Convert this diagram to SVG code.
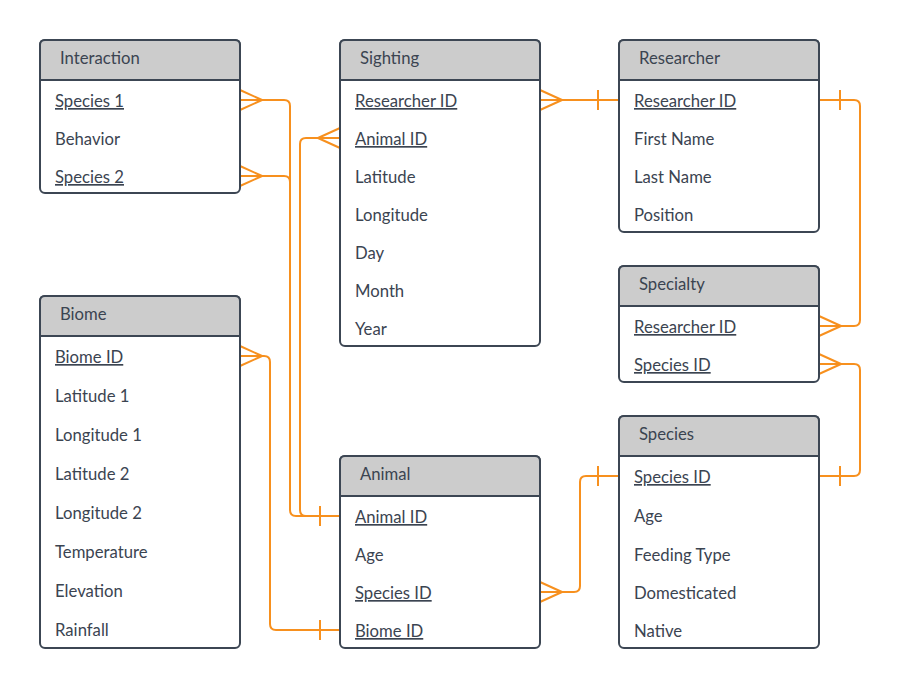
<svg xmlns="http://www.w3.org/2000/svg" width="900" height="688" viewBox="0 0 900 688">
<style>
.box{fill:#ffffff;stroke:#3c4653;stroke-width:2}
.hdr{fill:#cccccc;stroke:#3c4653;stroke-width:2}
text{font-family:"Lato","Liberation Sans",sans-serif;font-size:16.7px;fill:#3b4451}
.k{text-decoration:underline}
.c{fill:none;stroke:#f7901e;stroke-width:2;stroke-linejoin:round}
</style>
<rect width="900" height="688" fill="#ffffff"/>
<g id="connectors">
  <path class="c" d="M240,100 H284 Q290,100 290,106 V510 Q290,516 296,516 H340"/>
  <path class="c" d="M240,90 L262,100 L240,110"/>
  <path class="c" d="M240,176 H284 Q290,176 290,182 V510"/>
  <path class="c" d="M240,166 L262,176 L240,186"/>
  <path class="c" d="M340,138 H306 Q300,138 300,144 V510 Q300,516 306,516 H340"/>
  <path class="c" d="M340,128 L318,138 L340,148"/>
  <path class="c" d="M320,506 V526"/>
  <path class="c" d="M540,100 H619"/>
  <path class="c" d="M540,90 L562,100 L540,110"/>
  <path class="c" d="M598,90 V110"/>
  <path class="c" d="M819,100 H854 Q860,100 860,106 V320 Q860,326 854,326 H819"/>
  <path class="c" d="M840,90 V110"/>
  <path class="c" d="M819,316 L841,326 L819,336"/>
  <path class="c" d="M819,364 H854 Q860,364 860,370 V470 Q860,476 854,476 H819"/>
  <path class="c" d="M819,354 L841,364 L819,374"/>
  <path class="c" d="M840,466 V486"/>
  <path class="c" d="M240,356 H264 Q270,356 270,362 V624 Q270,630 276,630 H340"/>
  <path class="c" d="M240,346 L262,356 L240,366"/>
  <path class="c" d="M320,620 V640"/>
  <path class="c" d="M540,592 H574 Q580,592 580,586 V482 Q580,476 586,476 H619"/>
  <path class="c" d="M540,582 L562,592 L540,602"/>
  <path class="c" d="M598,466 V486"/>
</g>
<g id="interaction">
  <rect class="box" x="40" y="40" width="200" height="153" rx="5"/>
  <path class="hdr" d="M40,80 V45 Q40,40 45,40 H235 Q240,40 240,45 V80 Z"/>
  <text x="60" y="64">Interaction</text>
  <text class="k" x="55" y="107">Species 1</text>
  <text x="55" y="145">Behavior</text>
  <text class="k" x="55" y="183">Species 2</text>
</g>
<g id="sighting">
  <rect class="box" x="340" y="40" width="200" height="306" rx="5"/>
  <path class="hdr" d="M340,80 V45 Q340,40 345,40 H535 Q540,40 540,45 V80 Z"/>
  <text x="360" y="64">Sighting</text>
  <text class="k" x="355" y="107">Researcher ID</text>
  <text class="k" x="355" y="145">Animal ID</text>
  <text x="355" y="183">Latitude</text>
  <text x="355" y="221">Longitude</text>
  <text x="355" y="259">Day</text>
  <text x="355" y="297">Month</text>
  <text x="355" y="335">Year</text>
</g>
<g id="researcher">
  <rect class="box" x="619" y="40" width="200" height="192" rx="5"/>
  <path class="hdr" d="M619,80 V45 Q619,40 624,40 H814 Q819,40 819,45 V80 Z"/>
  <text x="639" y="64">Researcher</text>
  <text class="k" x="634" y="107">Researcher ID</text>
  <text x="634" y="145">First Name</text>
  <text x="634" y="183">Last Name</text>
  <text x="634" y="221">Position</text>
</g>
<g id="specialty">
  <rect class="box" x="619" y="266" width="200" height="116" rx="5"/>
  <path class="hdr" d="M619,306 V271 Q619,266 624,266 H814 Q819,266 819,271 V306 Z"/>
  <text x="639" y="290">Specialty</text>
  <text class="k" x="634" y="333">Researcher ID</text>
  <text class="k" x="634" y="371">Species ID</text>
</g>
<g id="biome">
  <rect class="box" x="40" y="296" width="200" height="352" rx="5"/>
  <path class="hdr" d="M40,336 V301 Q40,296 45,296 H235 Q240,296 240,301 V336 Z"/>
  <text x="60" y="320">Biome</text>
  <text class="k" x="55" y="363">Biome ID</text>
  <text x="55" y="402">Latitude 1</text>
  <text x="55" y="441">Longitude 1</text>
  <text x="55" y="480">Latitude 2</text>
  <text x="55" y="519">Longitude 2</text>
  <text x="55" y="558">Temperature</text>
  <text x="55" y="597">Elevation</text>
  <text x="55" y="636">Rainfall</text>
</g>
<g id="animal">
  <rect class="box" x="340" y="456" width="200" height="192" rx="5"/>
  <path class="hdr" d="M340,496 V461 Q340,456 345,456 H535 Q540,456 540,461 V496 Z"/>
  <text x="360" y="480">Animal</text>
  <text class="k" x="355" y="523">Animal ID</text>
  <text x="355" y="561">Age</text>
  <text class="k" x="355" y="599">Species ID</text>
  <text class="k" x="355" y="637">Biome ID</text>
</g>
<g id="species">
  <rect class="box" x="619" y="416" width="200" height="232" rx="5"/>
  <path class="hdr" d="M619,456 V421 Q619,416 624,416 H814 Q819,416 819,421 V456 Z"/>
  <text x="639" y="440">Species</text>
  <text class="k" x="634" y="483">Species ID</text>
  <text x="634" y="522">Age</text>
  <text x="634" y="561">Feeding Type</text>
  <text x="634" y="599">Domesticated</text>
  <text x="634" y="637">Native</text>
</g>
</svg>
